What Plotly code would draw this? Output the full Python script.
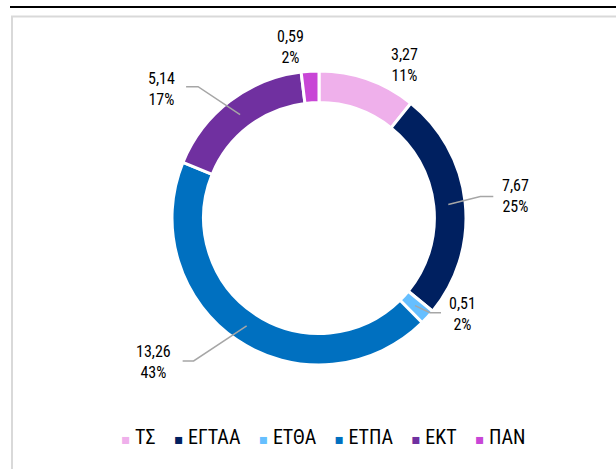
import math
import plotly.graph_objects as go

# ---- data ----
categories = ["ΤΣ", "ΕΓΤΑΑ", "ΕΤΘΑ", "ΕΤΠΑ", "ΕΚΤ", "ΠΑΝ"]
values = [3.27, 7.67, 0.51, 13.26, 5.14, 0.59]
percents = [11, 25, 2, 43, 17, 2]
colors = ["#EFB0EB", "#002060", "#66BFFF", "#0070C0", "#7030A0", "#C846D6"]

W, H = 616, 469
CX, CY, R = 319, 218, 147
FONT = "Roboto Condensed, Liberation Sans, Arial, sans-serif"


def px(x):
    return x / W


def py(y):
    return 1 - y / H


fig = go.Figure()
fig.add_trace(go.Pie(
    labels=categories, values=values, sort=False, direction="clockwise",
    rotation=0, hole=0.785, textinfo="none", showlegend=False,
    marker=dict(colors=colors, line=dict(color="white", width=3)),
    domain=dict(x=[px(CX - R), px(CX + R)], y=[py(CY + R), py(CY - R)]),
))

# label layout: (elbow dx, elbow dy, horizontal len, label dx, label dy) relative to slice start point
label_style = {
    "ΤΣ": None, "ΠΑΝ": None,
    "ΕΓΤΑΑ": (32, -8, 13, 22, 0),
    "ΕΤΘΑ": (15, 7, 11, 21, 1),
    "ΕΤΠΑ": (-53, 35, -11, -29, 1),
    "ΕΚΤ": (-42, -28, -12, -25, 2),
}
free_pos = {"ΤΣ": (404, 65), "ΠΑΝ": (290, 47)}

total = sum(values)
shapes = []
annotations = []
cum = 0
for cat, v, p in zip(categories, values, percents):
    mid = (cum + v / 2) / total * 2 * math.pi
    cum += v
    txt = f"{v:.2f}".replace(".", ",") + "<br>" + f"{p}%"
    st = label_style[cat]
    if st is None:
        lx, ly = free_pos[cat]
    else:
        sx = CX + 130 * math.sin(mid)
        sy = CY - 130 * math.cos(mid)
        ex, ey = sx + st[0], sy + st[1]
        hx = ex + st[2]
        path = f"M{px(sx)},{py(sy)} L{px(ex)},{py(ey)} L{px(hx)},{py(ey)}"
        shapes.append(dict(type="path", xref="paper", yref="paper", path=path,
                           line=dict(color="#A6A6A6", width=1.5)))
        lx, ly = hx + st[3], ey + st[4]
    annotations.append(dict(x=px(lx), y=py(ly), xref="paper", yref="paper",
                            text=txt, showarrow=False, xanchor="center", yanchor="middle",
                            font=dict(family=FONT, size=16, color="#000000")))

# legend as one centered line
sp = "&nbsp;"
parts = []
for cat, c in zip(categories, colors):
    parts.append(f"<span style='color:{c};font-family:DejaVu Sans;font-size:14px'>▪</span>{sp}{cat}")
legend_text = (sp * 4).join(parts)
annotations.append(dict(x=px(323), y=py(437), xref="paper", yref="paper", text=legend_text,
                        showarrow=False, xanchor="center", yanchor="middle",
                        font=dict(family=FONT, size=20, color="#000000")))

# frame lines
shapes.append(dict(type="line", xref="paper", yref="paper", x0=px(10), x1=1.01, y0=py(7), y1=py(7),
                   line=dict(color="#000000", width=2)))
shapes.append(dict(type="rect", xref="paper", yref="paper", x0=px(12), x1=1.05, y0=-0.05, y1=py(16.5),
                   line=dict(color="#D9D9D9", width=2), layer="below"))

fig.update_layout(width=W, height=H, margin=dict(l=0, r=0, t=0, b=0),
                  paper_bgcolor="white", plot_bgcolor="white",
                  shapes=shapes, annotations=annotations)
fig.write_html("out.html", config={"displayModeBar": False},
               post_script="document.body.style.margin='0';document.body.style.padding='0';")
